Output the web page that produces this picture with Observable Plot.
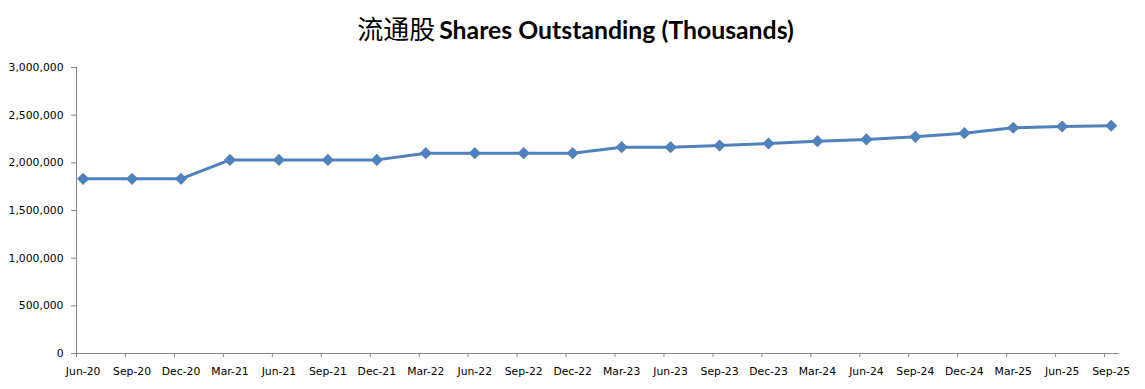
<!DOCTYPE html>
<html>
<head>
<meta charset="utf-8">
<script src="https://cdn.jsdelivr.net/npm/d3@7"></script>
<script src="https://cdn.jsdelivr.net/npm/@observablehq/plot@0.6"></script>
<style>
  html, body { margin: 0; padding: 0; background: #fff; }
  #title { height: 50px; line-height: 50px; text-align: center; white-space: nowrap; padding-top: 3px; padding-left: 6px; box-sizing: border-box; }
  #title .cjk { font-family: "Noto Sans CJK SC", sans-serif; font-size: 26px; font-weight: 400; }
  #title .lat { font-family: Lato, "Open Sans", sans-serif; font-size: 24.8px; font-weight: 700; }
</style>
</head>
<body>
<div id="title"><span class="cjk">流通股</span> <span class="lat">Shares Outstanding (Thousands)</span></div>
<div id="chart"></div>
<script>
const quarters = ["Jun-20","Sep-20","Dec-20","Mar-21","Jun-21","Sep-21","Dec-21","Mar-22","Jun-22","Sep-22","Dec-22",
  "Mar-23","Jun-23","Sep-23","Dec-23","Mar-24","Jun-24","Sep-24","Dec-24","Mar-25","Jun-25","Sep-25"];
const shares = [1832000,1832000,1832000,2031000,2031000,2031000,2031000,2101000,2101000,2101000,2101000,
  2164000,2164000,2182000,2203000,2227000,2245000,2273000,2311000,2368000,2381000,2389000];
const yTicks = [0,500000,1000000,1500000,2000000,2500000,3000000];

const data = quarters.map((q, i) => ({i, q, v: shares[i]}));
const x0 = -0.135, x1 = 21.17;
const idx = d3.range(quarters.length);
const axisColor = "#868686";
const blue = "#4F81BD";

const chart = Plot.plot({
  width: 1145,
  height: 339,
  marginLeft: 76,
  marginRight: 26,
  marginTop: 17,
  marginBottom: 36,
  style: {fontFamily: "DejaVu Sans", fontSize: "10.8px", color: "#000", background: "#fff"},
  x: {type: "linear", domain: [x0, x1]},
  y: {domain: [0, 3000000]},
  marks: [
    Plot.axisY({ticks: yTicks, tickFormat: d3.format(","), tickSize: 5, tickPadding: 8, stroke: axisColor, label: null}),
    Plot.axisX({ticks: idx.map(i => i + x0), tickFormat: () => "", tickSize: 4, stroke: axisColor, label: null}),
    Plot.axisX({ticks: idx, tickFormat: i => quarters[i], tickSize: 0, tickPadding: 14, label: null}),
    Plot.ruleX([x0], {stroke: axisColor, strokeWidth: 1}),
    Plot.ruleY([0], {stroke: axisColor, strokeWidth: 1}),
    Plot.line(data, {x: "i", y: "v", stroke: blue, strokeWidth: 3}),
    Plot.dot(data, {x: "i", y: "v", symbol: "diamond2", r: 5.5, fill: blue, stroke: "none"})
  ]
});
document.getElementById("chart").appendChild(chart);
</script>
</body>
</html>
